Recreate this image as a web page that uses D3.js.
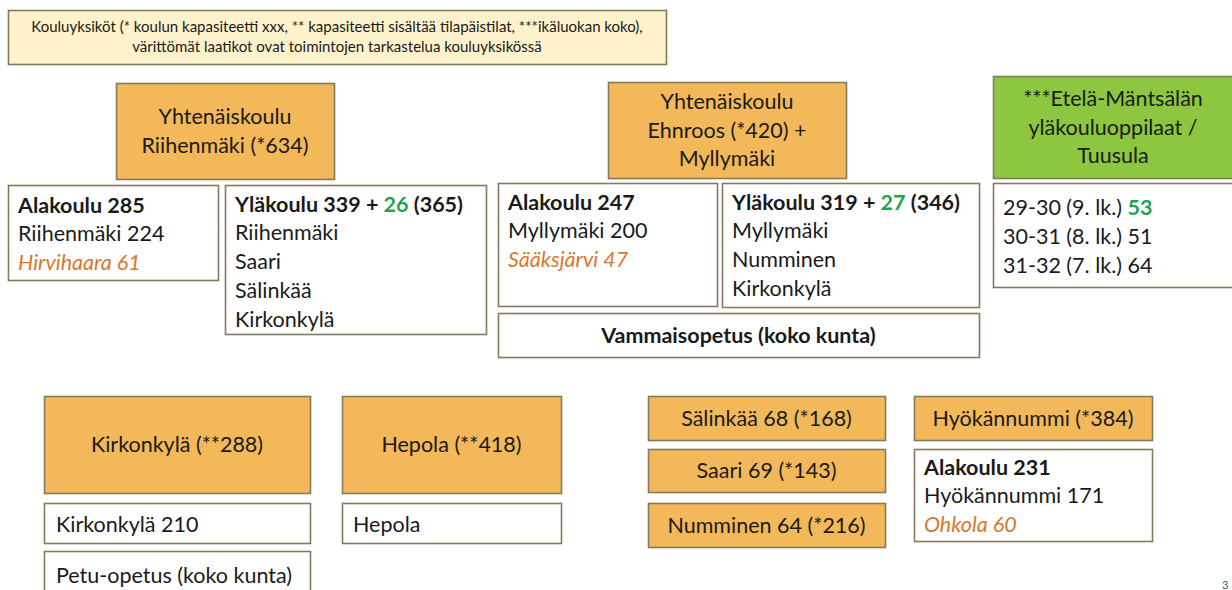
<!DOCTYPE html>
<html><head><meta charset="utf-8">
<script src="https://cdn.jsdelivr.net/npm/d3@7"></script>
<style>
html,body{margin:0;padding:0;background:#fff;}
svg{display:block;}
text{font-family:"Lato","Open Sans",sans-serif;fill:#1a1a1a;}
</style></head>
<body><svg id="c" width="1232" height="590"></svg>
<script>
// ---- content (text) ----
// segment styles: n = normal, b = bold, g = green bold, o = orange italic
const headerLines = [
  [["n","Kouluyksiköt (* koulun kapasiteetti xxx, ** kapasiteetti sisältää tilapäistilat, ***ikäluokan koko),"]],
  [["n","värittömät laatikot ovat toimintojen tarkastelua kouluyksikössä"]]
];
const riihenmakiTitle = [[["n","Yhtenäiskoulu"]],[["n","Riihenmäki (*634)"]]];
const riihenmakiAla = [[["b","Alakoulu 285"]],[["n","Riihenmäki 224"]],[["o","Hirvihaara 61"]]];
const riihenmakiYla = [[["b","Yläkoulu 339 + "],["g","26"],["b"," (365)"]],[["n","Riihenmäki"]],[["n","Saari"]],[["n","Sälinkää"]],[["n","Kirkonkylä"]]];
const ehnroosTitle = [[["n","Yhtenäiskoulu"]],[["n","Ehnroos (*420) +"]],[["n","Myllymäki"]]];
const ehnroosAla = [[["b","Alakoulu 247"]],[["n","Myllymäki 200"]],[["o","Sääksjärvi 47"]]];
const ehnroosYla = [[["b","Yläkoulu 319 + "],["g","27"],["b"," (346)"]],[["n","Myllymäki"]],[["n","Numminen"]],[["n","Kirkonkylä"]]];
const vammais = [[["b","Vammaisopetus (koko kunta)"]]];
const tuusulaTitle = [[["n","***Etelä-Mäntsälän"]],[["n","yläkouluoppilaat /"]],[["n","Tuusula"]]];
const tuusulaYears = [[["n","29-30 (9. lk.) "],["g","53"]],[["n","30-31 (8. lk.) 51"]],[["n","31-32 (7. lk.) 64"]]];
const kirkonkylaTitle = [[["n","Kirkonkylä (**288)"]]];
const kirkonkylaSub = [[["n","Kirkonkylä 210"]]];
const petu = [[["n","Petu-opetus (koko kunta)"]]];
const hepolaTitle = [[["n","Hepola (**418)"]]];
const hepolaSub = [[["n","Hepola"]]];
const salinkaa = [[["n","Sälinkää 68 (*168)"]]];
const saari = [[["n","Saari 69 (*143)"]]];
const numminen = [[["n","Numminen 64 (*216)"]]];
const hyokTitle = [[["n","Hyökännummi (*384)"]]];
const hyokAla = [[["b","Alakoulu 231"]],[["n","Hyökännummi 171"]],[["o","Ohkola 60"]]];
const pageNumber = ["3"];

// ---- layout (geometry & style) ----
const C = {cream:"#FEF2CC", orange:"#F2B85A", green:"#8DC63F", white:"#FFFFFF",
           stroke:"#847A5C", greenText:"#1EA552", orangeText:"#D9772F"};
const FS = 21.5;
const layout = [
  {lines:headerLines,    x:8,   y:10,  w:658, h:54,  fill:C.cream,  align:"c", size:15, lh:20},
  {lines:riihenmakiTitle,x:116, y:83,  w:218, h:96,  fill:C.orange, align:"c", size:FS, lh:28.5},
  {lines:riihenmakiAla,  x:8,   y:185, w:210, h:95,  fill:C.white,  align:"l", size:FS, lh:28.7, pad:10, top:20},
  {lines:riihenmakiYla,  x:225, y:185, w:261, h:149, fill:C.white,  align:"l", size:FS, lh:28.7, pad:10, top:19},
  {lines:ehnroosTitle,   x:608, y:82,  w:238, h:96,  fill:C.orange, align:"c", size:FS, lh:28.5},
  {lines:ehnroosAla,     x:498, y:183, w:219, h:123, fill:C.white,  align:"l", size:FS, lh:28.7, pad:10, top:19},
  {lines:ehnroosYla,     x:722, y:183, w:257, h:124, fill:C.white,  align:"l", size:FS, lh:28.7, pad:10, top:19},
  {lines:vammais,        x:498, y:313, w:481, h:44,  fill:C.white,  align:"c", size:FS, lh:28},
  {lines:tuusulaTitle,   x:993, y:76,  w:240, h:102, fill:C.green,  align:"c", size:FS, lh:28.5},
  {lines:tuusulaYears,   x:993, y:183, w:240, h:104, fill:C.white,  align:"l", size:FS, lh:29, pad:10, top:24},
  {lines:kirkonkylaTitle,x:44,  y:396, w:266, h:97,  fill:C.orange, align:"c", size:FS, lh:28},
  {lines:kirkonkylaSub,  x:44,  y:503, w:266, h:40,  fill:C.white,  align:"l", size:FS, lh:28, pad:12, top:21},
  {lines:petu,           x:44,  y:551, w:266, h:45,  fill:C.white,  align:"l", size:FS, lh:28, pad:12, top:24},
  {lines:hepolaTitle,    x:342, y:396, w:219, h:97,  fill:C.orange, align:"c", size:FS, lh:28},
  {lines:hepolaSub,      x:342, y:503, w:219, h:40,  fill:C.white,  align:"l", size:FS, lh:28, pad:11, top:21},
  {lines:salinkaa,       x:648, y:396, w:237, h:44,  fill:C.orange, align:"c", size:FS, lh:28},
  {lines:saari,          x:648, y:449, w:237, h:43,  fill:C.orange, align:"c", size:FS, lh:28},
  {lines:numminen,       x:648, y:503, w:237, h:44,  fill:C.orange, align:"c", size:FS, lh:28},
  {lines:hyokTitle,      x:914, y:396, w:238, h:44,  fill:C.orange, align:"c", size:FS, lh:28},
  {lines:hyokAla,        x:914, y:449, w:238, h:92,  fill:C.white,  align:"l", size:FS, lh:28.7, pad:10, top:18}
];

const svg = d3.select("#c");
const g = svg.selectAll("g.box").data(layout).join("g").attr("class","box");
g.append("rect")
  .attr("x", d => d.x + 0.5).attr("y", d => d.y + 0.5)
  .attr("width", d => d.w).attr("height", d => d.h)
  .attr("fill", d => d.fill).attr("stroke", C.stroke).attr("stroke-width", 1.6);

g.each(function(d){
  const n = d.lines.length;
  const cy0 = d.align === "c" ? d.y + d.h/2 - (n-1)*d.lh/2 : d.y + d.top;
  const t = d3.select(this).selectAll("text").data(d.lines).join("text")
    .attr("x", d.align === "c" ? d.x + d.w/2 : d.x + d.pad)
    .attr("y", (l,i) => cy0 + i*d.lh)
    .attr("dy", "0.36em")
    .attr("text-anchor", d.align === "c" ? "middle" : "start")
    .style("font-size", d.size + "px");
  t.selectAll("tspan").data(l => l).join("tspan")
    .text(s => s[1])
    .style("font-weight", s => (s[0]==="b"||s[0]==="g") ? 700 : 400)
    .style("font-style", s => s[0]==="o" ? "italic" : "normal")
    .style("fill", s => s[0]==="g" ? C.greenText : s[0]==="o" ? C.orangeText : "#1a1a1a");
});

svg.selectAll("text.page").data(pageNumber).join("text").attr("class","page")
  .attr("x", 1222).attr("y", 589).text(d => d)
  .style("font-size","11px").style("fill","#2f5f6a");
</script></body></html>
